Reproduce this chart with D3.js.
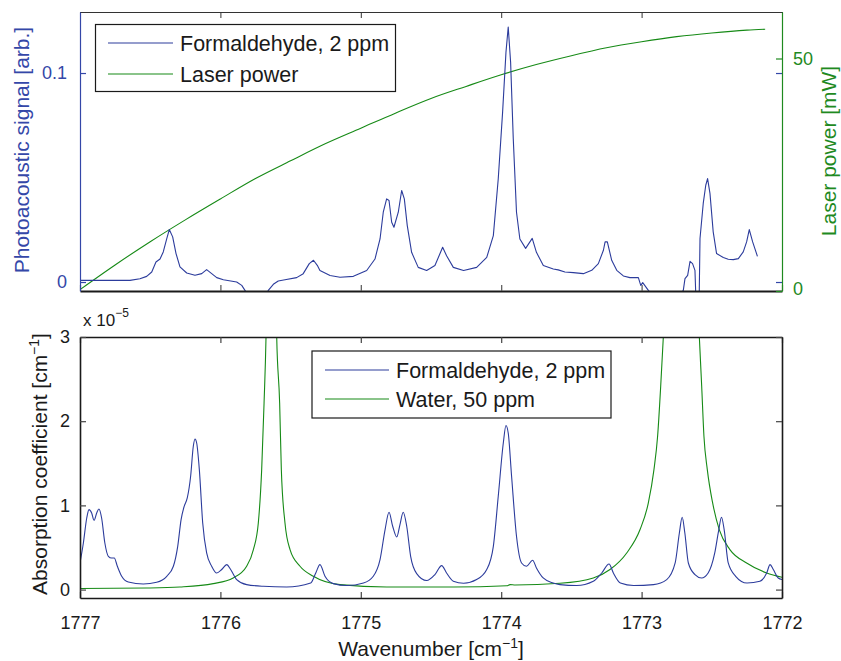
<!DOCTYPE html>
<html>
<head>
<meta charset="utf-8">
<script src="https://cdn.jsdelivr.net/npm/d3@7"></script>
<style>
  html, body { margin: 0; padding: 0; background: #fff; }
  svg { display: block; font-family: "Liberation Sans", Arial, Helvetica, sans-serif; }
</style>
</head>
<body>
<div id="chart"></div>
<script>
// ---------------- DATA ----------------
// Top panel: photoacoustic signal (arb.) vs wavenumber
const paWavenumber = [1777.000,1776.644,1776.573,1776.525,1776.489,1776.459,1776.430,1776.407,1776.382,1776.364,1776.340,1776.316,1776.288,1776.240,1776.181,1776.133,1776.098,1776.062,1776.026,1775.979,1775.884,1775.848,1775.825,1775.800,1775.740,1775.680,1775.659,1775.623,1775.588,1775.540,1775.457,1775.410,1775.367,1775.337,1775.310,1775.291,1775.219,1775.148,1775.053,1774.958,1774.899,1774.863,1774.840,1774.816,1774.799,1774.780,1774.764,1774.733,1774.709,1774.690,1774.669,1774.638,1774.591,1774.531,1774.472,1774.417,1774.389,1774.341,1774.268,1774.175,1774.103,1774.056,1774.021,1773.990,1773.966,1773.950,1773.933,1773.914,1773.891,1773.867,1773.826,1773.779,1773.749,1773.700,1773.629,1773.594,1773.546,1773.486,1773.415,1773.355,1773.308,1773.272,1773.260,1773.244,1773.213,1773.177,1773.130,1773.083,1773.023,1773.006,1772.992,1772.952,1772.900,1772.750,1772.703,1772.691,1772.672,1772.655,1772.637,1772.620,1772.613,1772.590,1772.584,1772.561,1772.543,1772.530,1772.513,1772.490,1772.466,1772.418,1772.383,1772.347,1772.311,1772.276,1772.252,1772.233,1772.209,1772.175];
const paSignal = [0.0008,0.0008,0.0016,0.0027,0.0048,0.0096,0.0110,0.0144,0.0208,0.0251,0.0216,0.0136,0.0072,0.0043,0.0032,0.0040,0.0059,0.0040,0.0021,0.0011,0.0000,-0.0016,-0.0040,-0.0070,-0.0090,-0.0070,-0.0040,-0.0011,0.0005,0.0011,0.0021,0.0040,0.0088,0.0104,0.0080,0.0055,0.0031,0.0023,0.0027,0.0055,0.0110,0.0206,0.0334,0.0398,0.0390,0.0286,0.0262,0.0334,0.0438,0.0398,0.0270,0.0142,0.0070,0.0055,0.0079,0.0166,0.0126,0.0070,0.0055,0.0070,0.0118,0.0222,0.0494,0.0813,0.1100,0.1220,0.1053,0.0685,0.0334,0.0206,0.0161,0.0209,0.0142,0.0079,0.0062,0.0058,0.0048,0.0045,0.0040,0.0056,0.0088,0.0152,0.0192,0.0192,0.0104,0.0056,0.0029,0.0021,0.0021,-0.0016,-0.0003,-0.0040,-0.0080,-0.0080,-0.0040,0.0016,0.0032,0.0099,0.0088,0.0056,-0.0080,-0.0080,0.0208,0.0376,0.0463,0.0495,0.0424,0.0240,0.0136,0.0117,0.0109,0.0107,0.0112,0.0144,0.0192,0.0251,0.0192,0.0123];

// Top panel: laser power (mW)
const laserWavenumber = [1777.00,1776.75,1776.50,1776.25,1776.00,1775.75,1775.50,1775.25,1775.00,1774.75,1774.50,1774.25,1774.00,1773.75,1773.50,1773.25,1773.00,1772.75,1772.50,1772.25,1772.12];
const laserPower = [0.3,5.6,10.6,15.3,19.8,24.2,28.0,31.7,35.0,38.3,41.4,44.0,46.5,48.7,50.6,52.3,53.6,54.7,55.5,56.1,56.3];

// Bottom panel: formaldehyde absorption coefficient (x 1e-5 cm^-1)
const hchoWavenumber = [1777.000,1776.976,1776.952,1776.936,1776.917,1776.900,1776.881,1776.865,1776.846,1776.823,1776.798,1776.775,1776.756,1776.734,1776.703,1776.656,1776.549,1776.454,1776.382,1776.335,1776.304,1776.280,1776.258,1776.236,1776.212,1776.193,1776.181,1776.169,1776.150,1776.126,1776.098,1776.062,1776.026,1775.991,1775.955,1775.927,1775.884,1775.813,1775.694,1775.528,1775.357,1775.320,1775.291,1775.255,1775.196,1775.100,1774.981,1774.911,1774.863,1774.827,1774.799,1774.773,1774.744,1774.721,1774.698,1774.673,1774.645,1774.602,1774.531,1774.472,1774.424,1774.389,1774.341,1774.268,1774.175,1774.103,1774.056,1774.021,1773.985,1773.966,1773.950,1773.926,1773.891,1773.855,1773.820,1773.776,1773.749,1773.701,1773.630,1773.581,1773.463,1773.344,1773.284,1773.232,1773.201,1773.151,1773.057,1772.915,1772.821,1772.761,1772.731,1772.711,1772.692,1772.667,1772.620,1772.573,1772.526,1772.479,1772.450,1772.431,1772.412,1772.383,1772.330,1772.249,1772.157,1772.109,1772.085,1772.062,1772.027,1772.000];
const hchoAbsorption = [0.316,0.553,0.850,0.950,0.910,0.823,0.910,0.957,0.850,0.553,0.395,0.375,0.375,0.277,0.158,0.090,0.067,0.087,0.158,0.277,0.514,0.831,0.989,1.088,1.346,1.702,1.789,1.741,1.425,0.791,0.435,0.277,0.197,0.238,0.297,0.238,0.119,0.059,0.039,0.031,0.078,0.200,0.297,0.158,0.071,0.048,0.078,0.158,0.356,0.713,0.918,0.752,0.625,0.772,0.918,0.752,0.395,0.190,0.107,0.178,0.285,0.197,0.099,0.075,0.119,0.238,0.514,1.108,1.741,1.948,1.860,1.346,0.633,0.316,0.277,0.348,0.257,0.138,0.078,0.059,0.048,0.099,0.197,0.304,0.197,0.078,0.048,0.059,0.119,0.316,0.672,0.859,0.672,0.316,0.178,0.138,0.197,0.435,0.713,0.859,0.713,0.316,0.158,0.078,0.099,0.197,0.297,0.238,0.138,0.119];

// Bottom panel: water absorption coefficient (x 1e-5 cm^-1)
const waterWavenumber = [1777.000,1776.525,1776.288,1776.051,1775.909,1775.813,1775.765,1775.730,1775.706,1775.689,1775.675,1775.637,1775.599,1775.578,1775.566,1775.540,1775.504,1775.433,1775.338,1775.148,1774.816,1774.341,1773.960,1773.937,1773.900,1773.581,1773.344,1773.225,1773.106,1773.011,1772.952,1772.912,1772.886,1772.864,1772.845,1772.717,1772.589,1772.572,1772.556,1772.532,1772.494,1772.447,1772.371,1772.252,1772.109,1772.000];
const waterAbsorption = [0.012,0.019,0.031,0.071,0.138,0.277,0.475,0.791,1.425,2.216,3.008,9.000,3.008,2.216,1.425,0.791,0.475,0.277,0.158,0.059,0.031,0.031,0.045,0.059,0.055,0.075,0.138,0.238,0.435,0.713,1.029,1.425,1.821,2.414,3.008,9.000,3.008,2.414,1.821,1.425,1.029,0.713,0.475,0.316,0.197,0.146];

// Tick labels
const xTicks = [1777, 1776, 1775, 1774, 1773, 1772];
const paTicks = [0, 0.1];
const paTickLabels = ["0", "0.1"];
const laserTicks = [0, 50];
const laserTickLabels = ["0", "50"];
const absTicks = [0, 1, 2, 3];
const absTickLabels = ["0", "1", "2", "3"];

// ---------------- DRAWING ----------------
const W = 841, H = 661;
const BLUE = "#2c3c9c", BLUE_TXT = "#3447a8", GREEN = "#168a16", GREEN_TXT = "#1f8a1f", AX = "#1a1a1a";
const FONT = '"Liberation Sans", Arial, Helvetica, sans-serif';

const svg = d3.select("#chart").append("svg").attr("width", W).attr("height", H);

const L = 80, R = 782;
const top1 = 12, bot1 = 291;
const top2 = 337, bot2 = 598;

const x = d3.scaleLinear().domain([1777, 1772]).range([L, R]);
const yPA = d3.scaleLinear().domain([-0.0043, 0.1292]).range([bot1, top1]);
const yLP = d3.scaleLinear().domain([0, 60]).range([bot1, top1]);
const yAbs = d3.scaleLinear().domain([-0.1, 3]).range([bot2, top2]);

const defs = svg.append("defs");
defs.append("clipPath").attr("id", "clip1").append("rect")
  .attr("x", L).attr("y", top1).attr("width", R - L).attr("height", bot1 - top1);
defs.append("clipPath").attr("id", "clip2").append("rect")
  .attr("x", L).attr("y", top2).attr("width", R - L).attr("height", bot2 - top2);

// ---- Top panel ----
const g1 = svg.append("g");
const paData = paWavenumber.map((w, i) => [w, paSignal[i]]);
const lpData = laserWavenumber.map((w, i) => [w, laserPower[i]]);

g1.append("path").datum(lpData).attr("clip-path", "url(#clip1)")
  .attr("fill", "none").attr("stroke", GREEN).attr("stroke-width", 1.1)
  .attr("d", d3.line().x(d => x(d[0])).y(d => yLP(d[1])).curve(d3.curveMonotoneX));
g1.append("path").datum(paData).attr("clip-path", "url(#clip1)")
  .attr("fill", "none").attr("stroke", BLUE).attr("stroke-width", 1.1)
  .attr("stroke-linejoin", "round")
  .attr("d", d3.line().x(d => x(d[0])).y(d => yPA(d[1])));

const xTopAxis1 = d3.axisTop(x).tickValues(xTicks).tickSizeInner(-6).tickSizeOuter(0).tickFormat("");
const xBotAxis1 = d3.axisBottom(x).tickValues(xTicks).tickSizeInner(-6).tickSizeOuter(0).tickFormat("");
const gxt1 = g1.append("g").attr("transform", `translate(0,${top1})`).call(xTopAxis1);
const gxb1 = g1.append("g").attr("transform", `translate(0,${bot1})`).call(xBotAxis1);
gxt1.selectAll("path,line").attr("stroke", "#333").attr("stroke-width", 1);
gxb1.selectAll("path").attr("stroke", AX).attr("stroke-width", 2);
gxb1.selectAll("line").attr("stroke", "#555").attr("stroke-width", 1.2);

const yLeft1 = d3.axisLeft(yPA).tickValues(paTicks).tickSizeInner(-6).tickSizeOuter(0)
  .tickFormat((d, i) => paTickLabels[i]).tickPadding(13);
const gyl1 = g1.append("g").attr("transform", `translate(${L},0)`).call(yLeft1);
gyl1.selectAll("path,line").attr("stroke", BLUE_TXT).attr("stroke-width", 1.2);
gyl1.selectAll("text").attr("fill", BLUE_TXT).attr("font-size", 18).attr("font-family", FONT);

const yRightMirror = d3.axisRight(yPA).tickValues(paTicks).tickSizeInner(-6).tickSizeOuter(0).tickFormat("");
const gmir = g1.append("g").attr("transform", `translate(${R},0)`).call(yRightMirror);
gmir.selectAll("path").remove();
gmir.selectAll("line").attr("stroke", BLUE_TXT).attr("stroke-width", 1.2);

const yRight1 = d3.axisRight(yLP).tickValues(laserTicks).tickSizeInner(-6).tickSizeOuter(0)
  .tickFormat((d, i) => laserTickLabels[i]).tickPadding(11);
const gyr1 = g1.append("g").attr("transform", `translate(${R},0)`).call(yRight1);
gyr1.selectAll("path,line").attr("stroke", GREEN_TXT).attr("stroke-width", 1.2);
gyr1.selectAll("text").attr("fill", GREEN_TXT).attr("font-size", 18).attr("font-family", FONT);
gyr1.selectAll(".tick").filter(d => d === 0).select("text").attr("dy", "0.2em");

const leg1 = g1.append("g");
leg1.append("rect").attr("x", 95.5).attr("y", 24.5).attr("width", 300).attr("height", 67)
  .attr("fill", "#fff").attr("stroke", AX).attr("stroke-width", 1.2);
[["Formaldehyde, 2 ppm", BLUE, 43], ["Laser power", GREEN, 74]].forEach(([t, c, yy]) => {
  leg1.append("line").attr("x1", 108).attr("x2", 173).attr("y1", yy).attr("y2", yy)
    .attr("stroke", c).attr("stroke-width", 1.1);
  leg1.append("text").attr("x", 180).attr("y", yy + 7.5).text(t)
    .attr("font-size", 21.5).attr("fill", "#1a1a1a").attr("font-family", FONT);
});

svg.append("text").attr("transform", "translate(29,150) rotate(-90)")
  .attr("text-anchor", "middle").attr("font-size", 21).attr("fill", BLUE_TXT)
  .attr("font-family", FONT).text("Photoacoustic signal [arb.]");
svg.append("text").attr("transform", "translate(836,151) rotate(-90)")
  .attr("text-anchor", "middle").attr("font-size", 21).attr("fill", GREEN_TXT)
  .attr("font-family", FONT).text("Laser power [mW]");

// ---- Bottom panel ----
const g2 = svg.append("g");
const hData = hchoWavenumber.map((w, i) => [w, hchoAbsorption[i]]);
const wData = waterWavenumber.map((w, i) => [w, waterAbsorption[i]]);

g2.append("path").datum(wData).attr("clip-path", "url(#clip2)")
  .attr("fill", "none").attr("stroke", GREEN).attr("stroke-width", 1.1)
  .attr("d", d3.line().x(d => x(d[0])).y(d => yAbs(d[1])).curve(d3.curveMonotoneX));
g2.append("path").datum(hData).attr("clip-path", "url(#clip2)")
  .attr("fill", "none").attr("stroke", BLUE).attr("stroke-width", 1.1)
  .attr("d", d3.line().x(d => x(d[0])).y(d => yAbs(d[1])).curve(d3.curveMonotoneX));

const xBot2 = d3.axisBottom(x).tickValues(xTicks).tickSizeInner(-6).tickSizeOuter(0)
  .tickFormat(d3.format("d")).tickPadding(18);
const xTop2 = d3.axisTop(x).tickValues(xTicks).tickSizeInner(-6).tickSizeOuter(0).tickFormat("");
const yL2 = d3.axisLeft(yAbs).tickValues(absTicks).tickSizeInner(-6).tickSizeOuter(0)
  .tickFormat((d, i) => absTickLabels[i]).tickPadding(10);
const yR2 = d3.axisRight(yAbs).tickValues(absTicks).tickSizeInner(-6).tickSizeOuter(0).tickFormat("");

const gx2 = g2.append("g").attr("transform", `translate(0,${bot2})`).call(xBot2);
const gxt2 = g2.append("g").attr("transform", `translate(0,${top2})`).call(xTop2);
const gy2 = g2.append("g").attr("transform", `translate(${L},0)`).call(yL2);
const gyr2 = g2.append("g").attr("transform", `translate(${R},0)`).call(yR2);
[gx2, gxt2, gy2, gyr2].forEach(g => {
  g.selectAll("path").attr("stroke", AX).attr("stroke-width", 1.6);
  g.selectAll("line").attr("stroke", "#444").attr("stroke-width", 1.2);
  g.selectAll("text").attr("fill", "#1a1a1a").attr("font-size", 18).attr("font-family", FONT);
});
gx2.selectAll("text").attr("dy", "0.71em");

const expo = svg.append("text").attr("x", 83).attr("y", 326).attr("font-size", 17)
  .attr("fill", "#1a1a1a").attr("font-family", FONT);
expo.append("tspan").text("x 10");
expo.append("tspan").attr("font-size", 12).attr("dy", -9).text("\u22125");

const leg2 = g2.append("g");
leg2.append("rect").attr("x", 312).attr("y", 351).attr("width", 299).attr("height", 67)
  .attr("fill", "#fff").attr("stroke", AX).attr("stroke-width", 1.2);
[["Formaldehyde, 2 ppm", BLUE, 370], ["Water, 50 ppm", GREEN, 399]].forEach(([t, c, yy]) => {
  leg2.append("line").attr("x1", 325).attr("x2", 389).attr("y1", yy).attr("y2", yy)
    .attr("stroke", c).attr("stroke-width", 1.1);
  leg2.append("text").attr("x", 396).attr("y", yy + 7.5).text(t)
    .attr("font-size", 21.5).attr("fill", "#1a1a1a").attr("font-family", FONT);
});

const ylab = svg.append("text").attr("transform", "translate(47,464) rotate(-90)")
  .attr("text-anchor", "middle").attr("font-size", 21).attr("fill", "#1a1a1a")
  .attr("font-family", FONT);
ylab.append("tspan").text("Absorption coefficient [cm");
ylab.append("tspan").attr("font-size", 14).attr("dy", -8).text("\u22121");
ylab.append("tspan").attr("dy", 8).text("]");

const xlab = svg.append("text").attr("x", (L + R) / 2).attr("y", 656)
  .attr("text-anchor", "middle").attr("font-size", 21).attr("fill", "#1a1a1a")
  .attr("font-family", FONT);
xlab.append("tspan").text("Wavenumber [cm");
xlab.append("tspan").attr("font-size", 14).attr("dy", -8).text("\u22121");
xlab.append("tspan").attr("dy", 8).text("]");
</script>
</body>
</html>
